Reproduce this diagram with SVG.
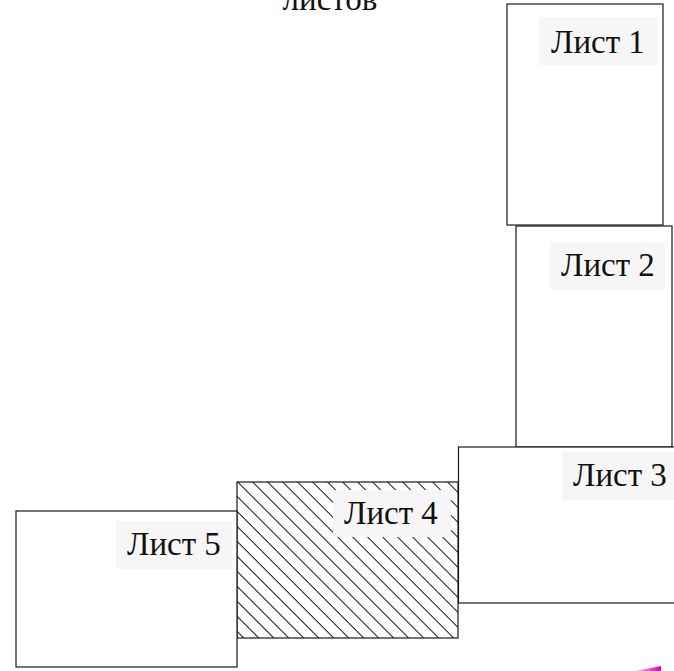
<svg xmlns="http://www.w3.org/2000/svg" width="674" height="671" viewBox="0 0 674 671">
  <style>
    .sheet { fill: #ffffff; stroke: #1a1a1a; stroke-width: 1.2; }
    .hatched { fill: url(#hatch); stroke: #1a1a1a; stroke-width: 1.2; }
    .tag { fill: #f6f6f6; stroke: none; }
    .lbl { font-family: "Liberation Serif", "Times New Roman", serif; font-size: 33px; fill: #111111; }
  </style>
  <defs>
    <!-- diagonal hatching, lines running top-left to bottom-right -->
    <pattern id="hatch" patternUnits="userSpaceOnUse" width="10.6" height="10.6" patternTransform="translate(237 482) rotate(-45)">
      <rect width="10.6" height="10.6" fill="#ffffff"/>
      <line x1="0.5" y1="0" x2="0.5" y2="10.6" stroke="#111111" stroke-width="1"/>
    </pattern>
    <linearGradient id="wedge" x1="0" y1="0" x2="1" y2="0">
      <stop offset="0" stop-color="#e020c0" stop-opacity="0.3"/>
      <stop offset="1" stop-color="#dd00b0"/>
    </linearGradient>
  </defs>

  <rect width="674" height="671" fill="#ffffff"/>

  <text class="lbl" x="330" y="10" text-anchor="middle">листов</text>

  <g id="sheet1">
    <rect class="sheet" x="507" y="4" width="156" height="221"/>
    <rect class="tag" x="539" y="17" width="118" height="48"/>
    <text class="lbl" x="551" y="53">Лист 1</text>
  </g>

  <g id="sheet2">
    <rect class="sheet" x="516" y="226" width="156" height="221"/>
    <rect class="tag" x="550" y="242" width="115" height="48"/>
    <text class="lbl" x="561" y="276">Лист 2</text>
  </g>

  <g id="sheet3">
    <rect class="sheet" x="458.5" y="447" width="240" height="156"/>
    <rect class="tag" x="562" y="452" width="112" height="48"/>
    <text class="lbl" x="573" y="486">Лист 3</text>
  </g>

  <g id="sheet4">
    <rect class="hatched" x="237" y="482" width="221" height="156"/>
    <rect class="tag" x="333" y="490" width="118" height="47"/>
    <text class="lbl" x="344" y="524">Лист 4</text>
  </g>

  <g id="sheet5">
    <rect class="sheet" x="16" y="511" width="221" height="156"/>
    <rect class="tag" x="116" y="521" width="116" height="48"/>
    <text class="lbl" x="127" y="555">Лист 5</text>
  </g>

  <polygon points="635,671 661,666 661,671" fill="url(#wedge)"/>
</svg>
